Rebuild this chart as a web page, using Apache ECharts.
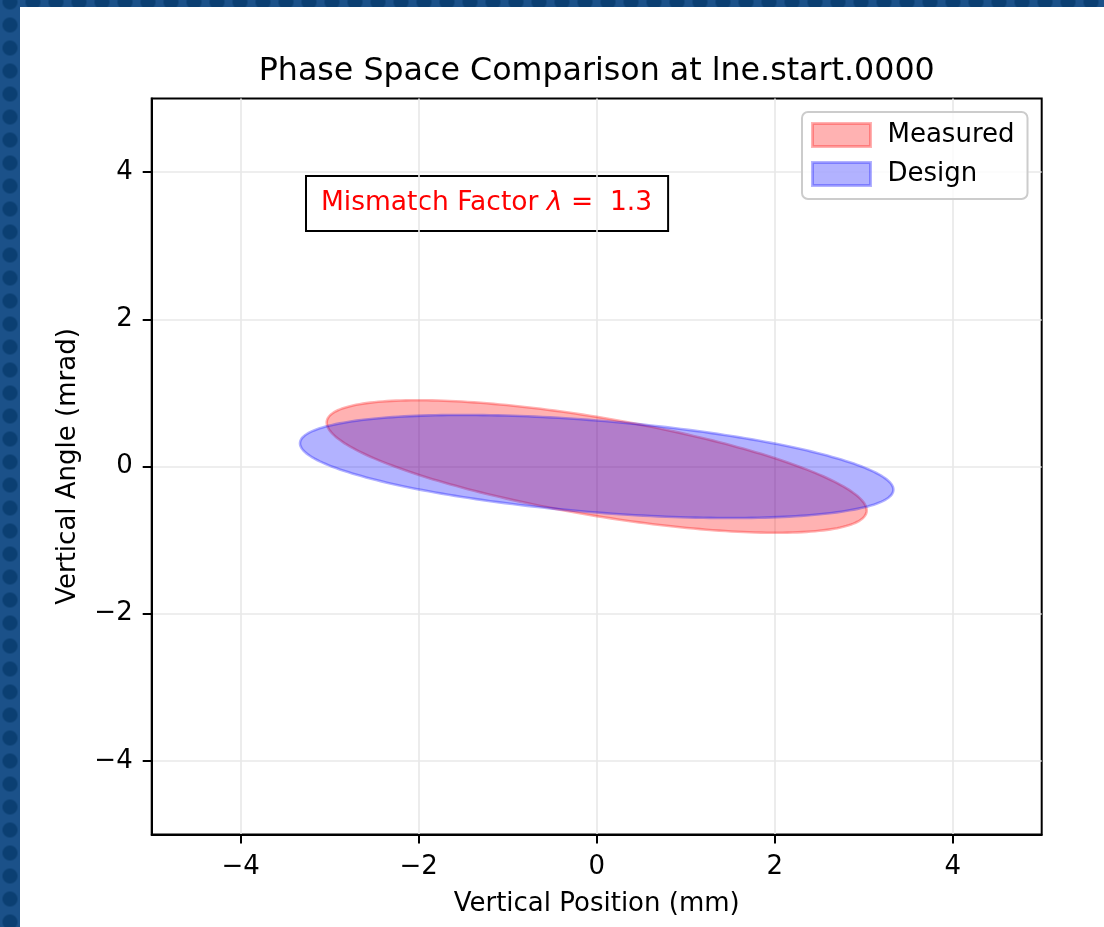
<!DOCTYPE html>
<html>
<head>
<meta charset="utf-8">
<title>Phase Space Comparison</title>
<script src="https://cdn.jsdelivr.net/npm/echarts@6/dist/echarts.min.js"></script>
<style>
  html, body { margin: 0; padding: 0; width: 1104px; height: 927px; overflow: hidden; }
  body {
    background-color: #1b5189;
    background-image: radial-gradient(circle at center, #0b3f72 0 7px, rgba(11,63,114,0) 8px);
    background-size: 23px 23px;
    background-position: -1.5px -9.5px;
  }
  #chart { position: absolute; left: 20px; top: 7px; width: 1084px; height: 920px; background: #ffffff; }
</style>
</head>
<body>
<div id="chart"></div>
<script>
// Beam ellipses described by their Twiss parameters (x in mm, x' in mrad)
const seriesNames = ['Measured', 'Design'];
const twissAlpha = [0.885, 0.504];
const twissBeta = [4.50, 5.33];      // m
const emittance = [2.045, 2.085];    // mm·mrad
const mismatchFactor = 1.3;

const xTicks = [-4, -2, 0, 2, 4];
const yTicks = [-4, -2, 0, 2, 4];
const axisRange = [-5, 5];

const fills = ['rgba(255,0,0,0.3)', 'rgba(0,0,255,0.3)'];
const edges = ['rgba(255,0,0,0.3)', 'rgba(0,0,255,0.3)'];

const FONT = "'DejaVu Sans', 'Liberation Sans', sans-serif";

// Outline of the phase-space ellipse  gamma x^2 + 2 alpha x x' + beta x'^2 = eps
function ellipseOutline(alpha, beta, eps, n) {
  const pts = [];
  for (let k = 0; k <= n; k++) {
    const t = 2 * Math.PI * k / n;
    const x = Math.sqrt(eps * beta) * Math.cos(t);
    const xp = -Math.sqrt(eps / beta) * (alpha * Math.cos(t) + Math.sin(t));
    pts.push([x, xp]);
  }
  return pts;
}

const minus = v => (v < 0 ? '\u2212' + Math.abs(v) : String(v));

const chart = echarts.init(document.getElementById('chart'), null, { renderer: 'canvas' });

const GRID = { left: 131.7, top: 91.4, width: 890, height: 736.2 };

const series = seriesNames.map((name, i) => {
  const outline = ellipseOutline(twissAlpha[i], twissBeta[i], emittance[i], 240);
  return {
    type: 'custom',
    name: name,
    coordinateSystem: 'cartesian2d',
    data: outline,
    silent: true,
    animation: false,
    itemStyle: { color: fills[i], borderColor: edges[i], borderWidth: 2.6 },
    renderItem: function (params, api) {
      if (params.dataIndex !== 0) return null;
      return {
        type: 'polygon',
        shape: { points: outline.map(p => api.coord(p)) },
        style: { fill: fills[i], stroke: edges[i], lineWidth: 2.6 }
      };
    }
  };
});

function valueAxis(ticks, name, gap) {
  return {
    type: 'value',
    min: axisRange[0],
    max: axisRange[1],
    name: name,
    nameLocation: 'middle',
    nameGap: gap,
    nameTextStyle: { fontFamily: FONT, fontSize: 26, color: '#000' },
    axisLine: { show: true, onZero: false, lineStyle: { color: '#000', width: 2 } },
    axisTick: { show: true, customValues: ticks, length: 9, lineStyle: { color: '#000', width: 2 } },
    axisLabel: { customValues: ticks, formatter: minus, fontFamily: FONT, fontSize: 26, color: '#000' },
    splitLine: { show: true, lineStyle: { color: '#e8e8e8', width: 1.6 } }
  };
}

const xAxis = valueAxis(xTicks, 'Vertical Position (mm)', 57);
xAxis.axisLabel.margin = 20;
const yAxis = valueAxis(yTicks, 'Vertical Angle (mrad)', 70);
yAxis.nameRotate = 90;
yAxis.axisLabel.margin = 19;

chart.setOption({
  animation: false,
  grid: Object.assign({ show: true, borderColor: '#000', borderWidth: 2, backgroundColor: 'transparent' }, GRID),
  xAxis: xAxis,
  yAxis: yAxis,
  legend: {
    orient: 'vertical',
    left: 782,
    top: 105,
    padding: [10, 13, 12, 9],
    itemWidth: 58,
    itemHeight: 23,
    itemGap: 13,
    backgroundColor: 'rgba(255,255,255,0.8)',
    borderColor: '#cccccc',
    borderWidth: 2,
    borderRadius: 6,
    icon: 'rect',
    selectedMode: false,
    textStyle: { fontFamily: FONT, fontSize: 26, color: '#000', padding: [0, 0, 0, 12] },
    data: seriesNames.map((n, i) => ({
      name: n,
      itemStyle: { color: fills[i], borderColor: edges[i], borderWidth: 3 }
    }))
  },
  graphic: [
    {
      type: 'text',
      x: GRID.left + GRID.width / 2,
      y: 49,
      style: {
        text: 'Phase Space Comparison at lne.start.0000',
        font: "31.7px " + FONT,
        fill: '#000',
        align: 'center',
        verticalAlign: 'top'
      }
    },
    {
      type: 'text',
      x: 287,
      y: 170,
      style: {
        text: '{r|Mismatch Factor }{i|\u03bb}{r| =  ' + mismatchFactor.toFixed(1) + '}',
        rich: {
          r: { fontFamily: FONT, fontSize: 26.5, fill: '#ff0000', color: '#ff0000' },
          i: { fontFamily: FONT, fontSize: 26.5, fontStyle: 'italic', fill: '#ff0000', color: '#ff0000' }
        },
        fill: '#ff0000',
        backgroundColor: '#ffffff',
        borderColor: '#000000',
        borderWidth: 2,
        padding: [13, 15, 13, 14],
        align: 'left',
        verticalAlign: 'top'
      }
    }
  ],
  series: series
});
</script>
</body>
</html>
